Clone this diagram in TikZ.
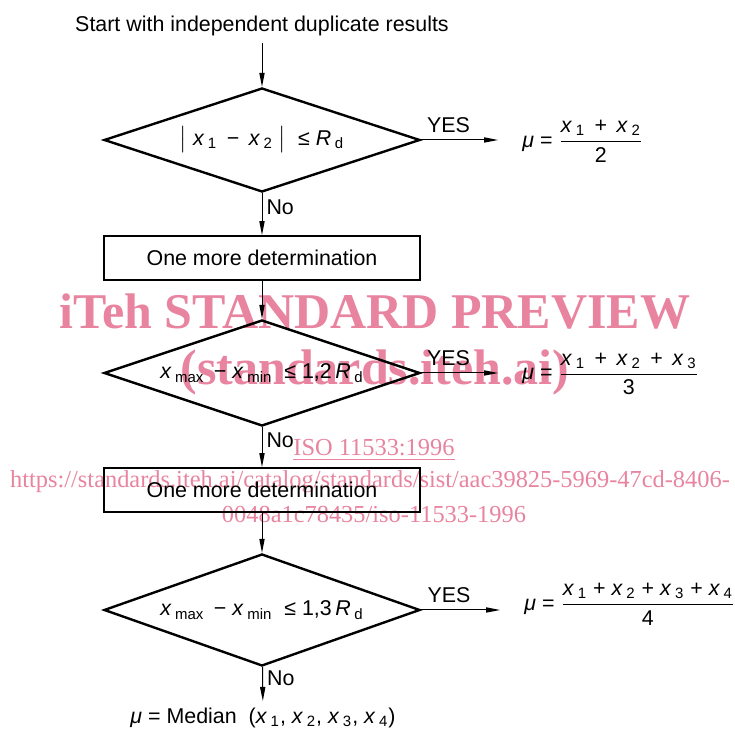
\documentclass[tikz,border=0pt]{standalone}
\usepackage{amsmath}
\usepackage{fontspec}
\setmainfont{Liberation Sans}
\newfontfamily\wmfont{Liberation Serif}
\usetikzlibrary{shapes.geometric,arrows.meta}
\definecolor{figpink}{HTML}{E8849F}
\newcommand{\vx}[1]{\textit{x}\,\textsubscript{#1}}
\newcommand{\Rd}{\textit{R}\,\textsubscript{d}}
\newcommand{\xspan}{\vx{max}\ \,−\ \vx{min}}

\begin{document}
\begin{tikzpicture}[x=0.5pt,y=-0.5pt,
    every node/.style={font=\fontsize{10.7}{12}\selectfont},
    decision/.style={draw,diamond,line width=1.2pt,inner sep=0pt,aspect=3,minimum width=158pt},
    stepbox/.style={draw,rectangle,line width=0.9pt,minimum width=158pt,minimum height=22pt},
    flow/.style={line width=0.5pt,-{Triangle[length=7pt,width=2.6pt]}},
    yes/.style={above,pos=0.27},
    no/.style={right,pos=0.33,inner xsep=2pt},
    wm/.style={text=figpink,inner sep=0pt}]
    \useasboundingbox (0,0) rectangle (735,731);
    \node[wm,font=\wmfont\bfseries\fontsize{25}{30}\selectfont] (wmhead) at (375,312) {iTeh STANDARD PREVIEW};
    \node[wm,font=\wmfont\bfseries\fontsize{25}{30}\selectfont] (wmsite) at (375,372) {(standards.iteh.ai)};
    \node[wm,font=\wmfont\fontsize{12.2}{15}\selectfont] (wmiso) at (374,450) {\underline{ISO 11533:1996}};
    \node[wm,font=\wmfont\fontsize{12.2}{15}\selectfont] (wmurl) at (370,482) {https://standards.iteh.ai/catalog/standards/sist/aac39825-5969-47cd-8406-};
    \node[wm,font=\wmfont\fontsize{12.2}{15}\selectfont] (wmtail) at (374,515) {0048a1c78435/iso-11533-1996};

    \node (start) at (262,26) {Start with independent duplicate results};
    \node[decision,minimum height=52pt] (d1) at (262,140) {$\bigl|$\ \vx{1} \,−\, \vx{2}\ $\bigr|$ \ ≤\ \Rd};
    \node[anchor=west,inner sep=0pt] (r1) at (522,141) {\textit{μ} = $\dfrac{\mbox{\vx{1} \,+\, \vx{2}}}{\mbox{2}}$};
    \node[stepbox] (b1) at (262,258) {One more determination};
    \node[decision,minimum height=53pt] (d2) at (262,373) {\xspan\ \ ≤\ 1,2\,\Rd};
    \node[anchor=west,inner sep=0pt] (r2) at (522,374) {\textit{μ} = $\dfrac{\mbox{\vx{1} \,+\, \vx{2} \,+\, \vx{3}}}{\mbox{3}}$};
    \node[stepbox] (b2) at (262,490) {One more determination};
    \node[decision,minimum height=56pt] (d3) at (262,610) {\xspan\ \ ≤\ 1,3\,\Rd};
    \node[anchor=west,inner sep=0pt] (r3) at (524,604) {\textit{μ} = $\dfrac{\mbox{\vx{1} + \vx{2} + \vx{3} + \vx{4}}}{\mbox{4}}$};
    \node (res) at (263,718) {\textit{μ} = Median\ \ (\vx{1}, \vx{2}, \vx{3}, \vx{4})};

    \draw[flow] (start) -- (d1);
    \draw[flow] (d1) -- node[no] {No} (b1);
    \draw[flow] (b1) -- (d2);
    \draw[flow] (d2) -- node[no] {No} (b2);
    \draw[flow] (b2) -- (d3);
    \draw[flow] (d3) -- node[no] {No} (res);
    \draw[flow,shorten >=12pt] (d1.east) -- node[yes] {YES} (d1.east -| r1.west);
    \draw[flow,shorten >=12pt] (d2.east) -- node[yes] {YES} (d2.east -| r2.west);
    \draw[flow,shorten >=12pt] (d3.east) -- node[yes] {YES} (d3.east -| r3.west);
\end{tikzpicture}
\end{document}
